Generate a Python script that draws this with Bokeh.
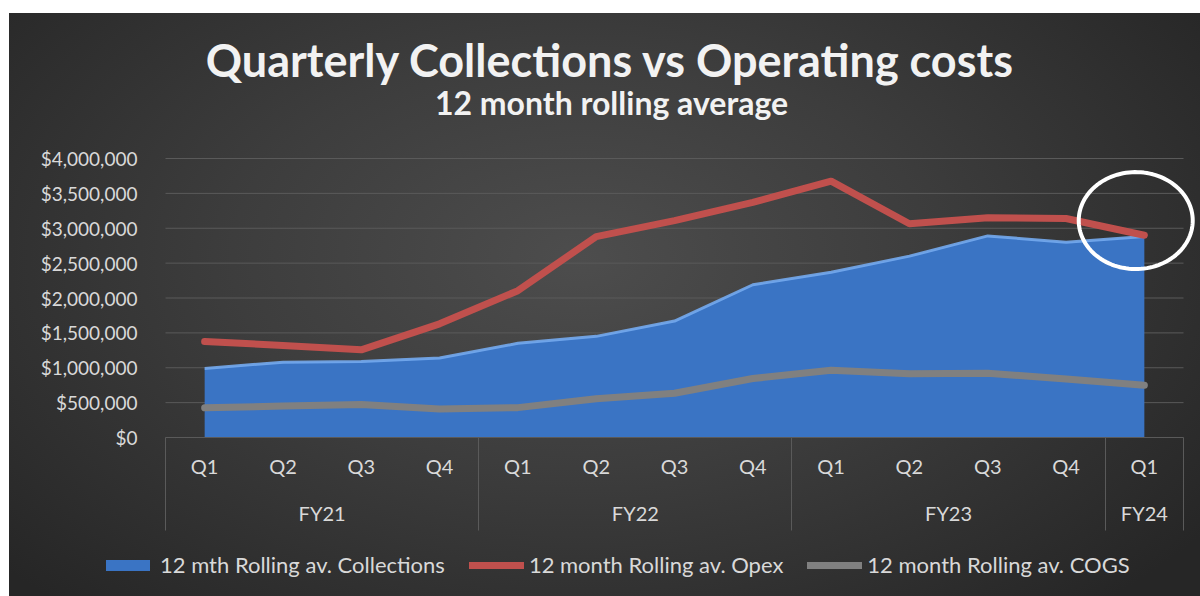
import numpy as np
from bokeh.plotting import figure
from bokeh.models import (Range1d, LinearAxis, FixedTicker, NumeralTickFormatter,
                          Legend, LegendItem, Label, PolyAnnotation)
from bokeh.embed import file_html
from bokeh.resources import INLINE

# ---------------- data ----------------
quarters = ["Q1", "Q2", "Q3", "Q4", "Q1", "Q2", "Q3", "Q4", "Q1", "Q2", "Q3", "Q4", "Q1"]
fiscal_years = ["FY21", "FY22", "FY23", "FY24"]
fy_quarter_counts = [4, 4, 4, 1]
collections = [990000, 1080000, 1090000, 1140000, 1350000, 1450000, 1670000,
               2190000, 2370000, 2600000, 2890000, 2800000, 2880000]
opex = [1376000, 1320000, 1257000, 1630000, 2105000, 2880000, 3110000,
        3370000, 3675000, 3065000, 3150000, 3140000, 2900000]
cogs = [425000, 450000, 472000, 410000, 428000, 555000, 635000,
        845000, 965000, 915000, 922000, 840000, 750000]
y_ticks = [0, 500000, 1000000, 1500000, 2000000, 2500000, 3000000, 3500000, 4000000]

series_names = ["12 mth Rolling av. Collections", "12 month Rolling av. Opex",
                "12 month Rolling av. COGS"]
title_text = "Quarterly Collections vs Operating costs"
subtitle_text = "12 month rolling average"

# category positions (centre of each quarter slot)
n = len(quarters)
xpos = np.arange(n) + 0.5
bounds = np.concatenate([[0], np.cumsum(fy_quarter_counts)]).astype(float)
fy_centres = (bounds[:-1] + bounds[1:]) / 2

# ---------------- layout (pixels) ----------------
CANVAS_W, CANVAS_H = 1191, 583
PLOT_L, PLOT_R, PLOT_T, PLOT_B = 156, 17, 145, 159   # margins around the data area
PLOT_W = CANVAS_W - PLOT_L - PLOT_R
PLOT_H = CANVAS_H - PLOT_T - PLOT_B
ux = n / PLOT_W
uy = y_ticks[-1] / PLOT_H
x_range = Range1d(-PLOT_L * ux, n + PLOT_R * ux)
y_range = Range1d(-PLOT_B * uy, y_ticks[-1] + PLOT_T * uy)

FONT = "Lato"
TXT = "#d9d9d9"
GRID = "#5a5a5a"
SEP_LEN = 93

p = figure(frame_width=CANVAS_W, frame_height=CANVAS_H, output_backend="svg",
           toolbar_location=None, x_range=x_range, y_range=y_range,
           min_border=0)
p.title.visible = False
p.margin = (13, 0, 0, 9)
p.background_fill_color = None
p.border_fill_color = None
p.outline_line_color = None
p.styles = {"background": "radial-gradient(ellipse 65% 80% at 48% 42%, #4d4d4d 0%, #3d3d3d 45%, #262626 100%)"}
p.xgrid.visible = False
p.ygrid.visible = False

# ---------------- grid lines (value axis ticks) ----------------
p.segment(x0=0, x1=n, y0=y_ticks[1:], y1=y_ticks[1:], line_color=GRID, line_width=1)

# ---------------- axes ----------------
xa = p.xaxis[0]
xa.fixed_location = 0
xa.bounds = (0, n)
xa.ticker = FixedTicker(ticks=list(xpos), minor_ticks=list(bounds))
xa.major_label_overrides = {float(x): q for x, q in zip(xpos, quarters)}
xa.major_tick_line_color = None
xa.major_tick_out = 0
xa.major_tick_in = 0
xa.minor_tick_in = 0
xa.minor_tick_out = SEP_LEN
xa.minor_tick_line_color = GRID
xa.minor_tick_line_width = 1
xa.axis_line_color = GRID
xa.axis_line_width = 1
xa.major_label_standoff = 16 - SEP_LEN
xa.major_label_text_font = FONT
xa.major_label_text_font_size = "20px"
xa.major_label_text_color = TXT

fy_axis = LinearAxis(ticker=FixedTicker(ticks=list(fy_centres), minor_ticks=[]),
                     major_label_overrides={float(c): f for c, f in zip(fy_centres, fiscal_years)},
                     fixed_location=0, bounds=(0, n))
fy_axis.axis_line_color = None
fy_axis.major_tick_line_color = None
fy_axis.minor_tick_line_color = None
fy_axis.major_tick_out = 0
fy_axis.major_tick_in = 0
fy_axis.minor_tick_out = 0
fy_axis.minor_tick_in = 0
fy_axis.major_label_standoff = 63
fy_axis.major_label_text_font = FONT
fy_axis.major_label_text_font_size = "20px"
fy_axis.major_label_text_color = TXT
p.add_layout(fy_axis, "below")

ya = p.yaxis[0]
ya.fixed_location = 0
ya.bounds = (y_ticks[0], y_ticks[-1])
ya.ticker = FixedTicker(ticks=y_ticks, minor_ticks=[])
ya.formatter = NumeralTickFormatter(format="$0,0")
ya.axis_line_color = None
ya.major_tick_line_color = None
ya.major_tick_out = 0
ya.major_tick_in = 0
ya.minor_tick_out = 0
ya.minor_tick_in = 0
ya.major_label_standoff = 28
ya.major_label_text_font = FONT
ya.major_label_text_font_size = "19px"
ya.major_label_text_color = TXT

# ---------------- series ----------------
area = p.varea(x=xpos, y1=0, y2=collections, fill_color="#3a74c4", fill_alpha=1)
p.line(x=xpos, y=collections, line_color="#74aaee", line_width=3, line_alpha=0.9)
red = p.line(x=xpos, y=opex, line_color="#c0504d", line_width=7, line_cap="round",
             line_join="round")
grey = p.line(x=xpos, y=cogs, line_color="#808080", line_width=7, line_cap="round",
              line_join="round")

# ---------------- highlight ellipse ----------------
ell_cx, ell_cy = 12.39, 3110000
ell_a, ell_b = 0.728, 695000
t = np.linspace(0, 2 * np.pi, 120)
p.add_layout(PolyAnnotation(xs=list(ell_cx + ell_a * np.cos(t)),
                            ys=list(ell_cy + ell_b * np.sin(t)),
                            fill_color=None, fill_alpha=0, level="overlay",
                            line_color="white", line_alpha=1, line_width=4))

# ---------------- titles ----------------
p.add_layout(Label(x=601, y=537, x_units="screen", y_units="screen", text=title_text,
                   text_align="center", text_baseline="alphabetic", text_font=FONT,
                   text_font_style="bold", text_font_size="45px", text_color="#f2f2f2"))
p.add_layout(Label(x=602, y=494, x_units="screen", y_units="screen", text=subtitle_text,
                   text_align="center", text_baseline="alphabetic", text_font=FONT,
                   text_font_style="bold", text_font_size="32px", text_color="#f2f2f2"))

# ---------------- legend ----------------
legend = Legend(items=[LegendItem(label=series_names[0], renderers=[area]),
                       LegendItem(label=series_names[1], renderers=[red]),
                       LegendItem(label=series_names[2], renderers=[grey])],
                orientation="horizontal", location=(91, 18),
                background_fill_alpha=0, border_line_alpha=0,
                label_text_color=TXT, label_text_font=FONT, label_text_font_size="22px",
                glyph_width=55, glyph_height=14, label_standoff=5, spacing=24,
                padding=0, margin=0)
p.add_layout(legend, "center")

open("out.html", "w").write(file_html(p, INLINE))
